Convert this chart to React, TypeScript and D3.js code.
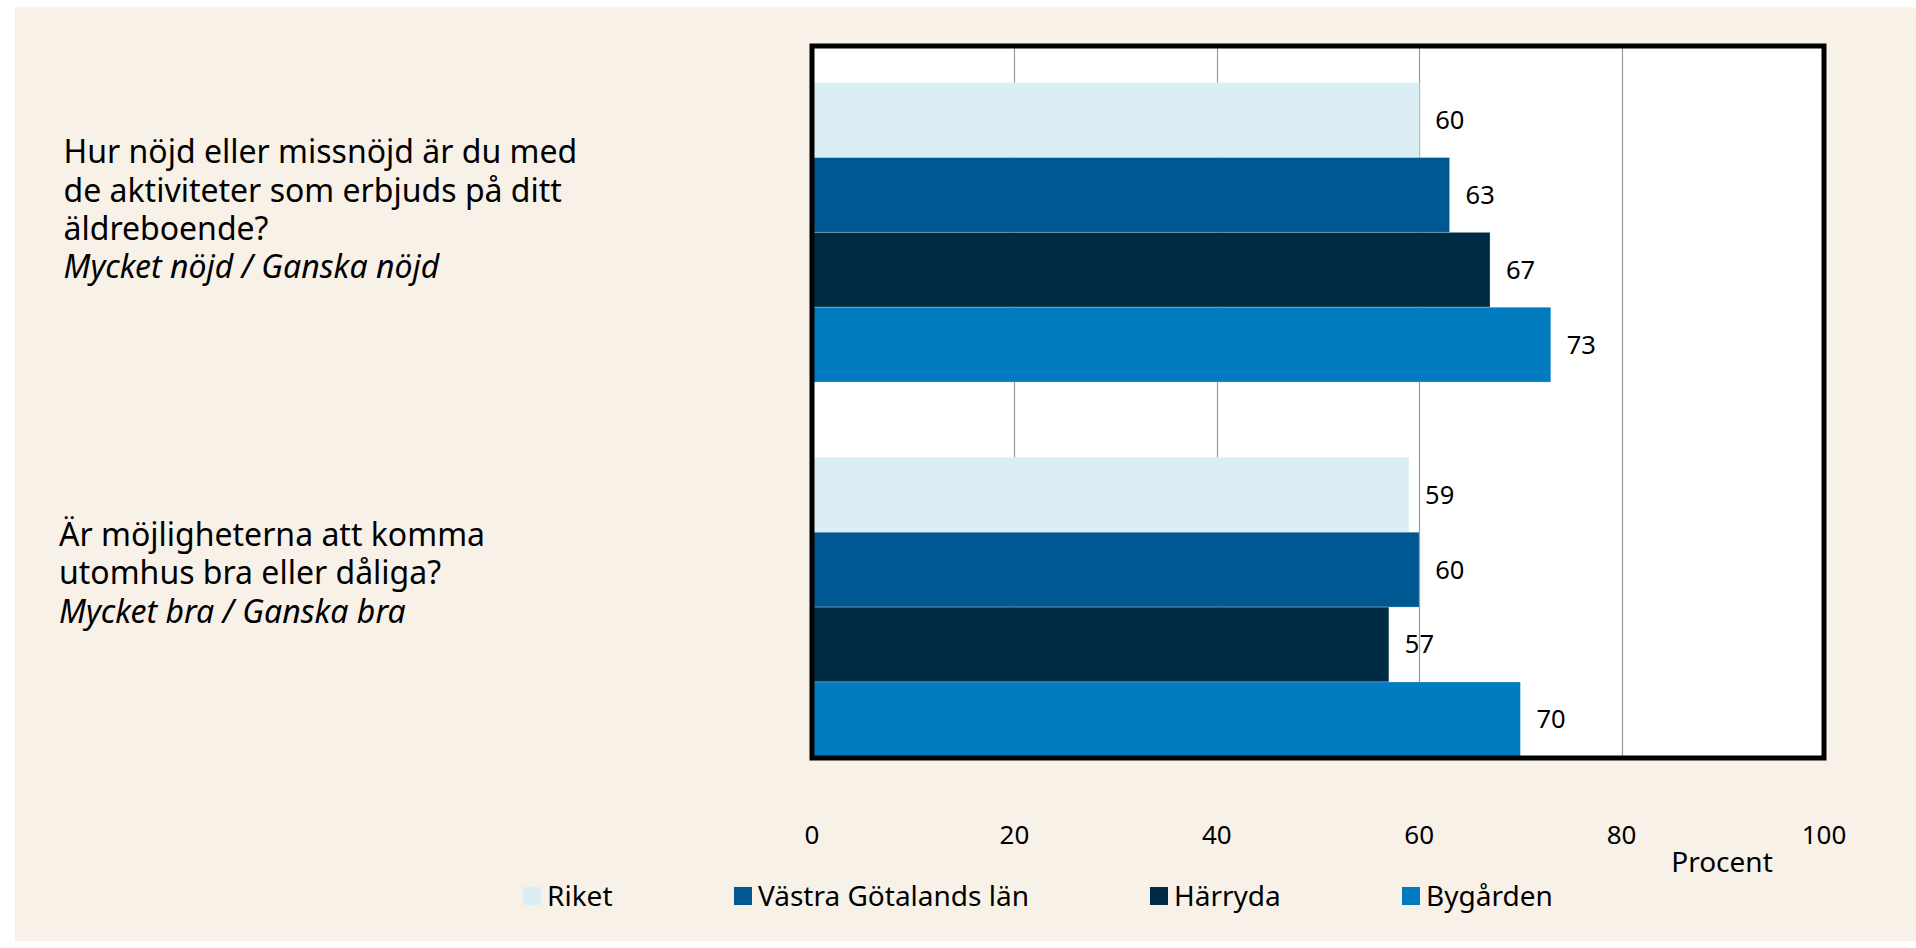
import React from "react";
import * as d3 from "d3";

const categories = ["q1", "q2"];
const categoryLines: string[][] = [
  ["Hur nöjd eller missnöjd är du med", "de aktiviteter som erbjuds på ditt", "äldreboende?"],
  ["Är möjligheterna att komma", "utomhus bra eller dåliga?"],
];
const categorySub = ["Mycket nöjd / Ganska nöjd", "Mycket bra / Ganska bra"];
const seriesNames = ["Riket", "Västra Götalands län", "Härryda", "Bygården"];
const riket = [60, 59];
const vastraGotaland = [63, 60];
const harryda = [67, 57];
const bygarden = [73, 70];
const tickValues = [0, 20, 40, 60, 80, 100];
const axisTitle = "Procent";

const seriesValues = [riket, vastraGotaland, harryda, bygarden];
const colors = ["#DBEEF5", "#005892", "#002B44", "#007BC0"];

const W = 1916;
const H = 948;
const FONT = "'Noto Sans', 'Open Sans', sans-serif";

export default function App() {
  const x = d3.scaleLinear().domain([0, 100]).range([812, 1824]);
  const y = d3
    .scaleBand<string>()
    .domain(categories)
    .range([82.7, 756.8])
    .paddingInner(0.201)
    .paddingOuter(0);
  const inner = d3
    .scaleBand<string>()
    .domain(seriesNames)
    .range([0, y.bandwidth()])
    .padding(0);

  const plotTop = 46;
  const plotBottom = 758;
  const labelFirstBaseline = [163.3, 546];
  const labelX = [63.5, 59];
  const lineH = 38.3;
  const legendX = [523, 734, 1150, 1402];

  return (
    <svg
      width={W}
      height={H}
      style={{ position: "absolute", left: 0, top: 0, display: "block" }}
      fontFamily={FONT}
    >
      <rect x={0} y={0} width={W} height={H} fill="#ffffff" />
      <rect x={15} y={7.5} width={W - 15} height={941 - 7.5} fill="#F8F1E8" />

      {/* plot background */}
      <rect x={x(0)} y={plotTop} width={x(100) - x(0)} height={plotBottom - plotTop} fill="#ffffff" />

      {/* gridlines */}
      {tickValues.slice(1, -1).map((t) => (
        <line
          key={"g" + t}
          x1={Math.round(x(t)) + 0.5}
          x2={Math.round(x(t)) + 0.5}
          y1={plotTop}
          y2={plotBottom}
          stroke="#9a9a9a"
          strokeWidth={1.2}
        />
      ))}

      {/* bars */}
      {categories.map((c, ci) => (
        <g key={c} transform={`translate(0,${y(c)})`}>
          {seriesNames.map((s, si) => {
            const v = seriesValues[si][ci];
            const by = inner(s) as number;
            const bh = inner.bandwidth();
            return (
              <g key={s}>
                <rect
                  x={x(0)}
                  y={by}
                  width={x(v) - x(0)}
                  height={bh}
                  fill={colors[si]}
                  stroke="rgba(255,255,255,0.25)"
                  strokeWidth={1}
                />
                <text
                  x={x(v) + 16}
                  y={by + bh / 2}
                  dy="0.35em"
                  fontSize={25.5}
                  fill="#000"
                >
                  {v}
                </text>
              </g>
            );
          })}
        </g>
      ))}

      {/* frame */}
      <rect
        x={x(0)}
        y={plotTop}
        width={x(100) - x(0)}
        height={plotBottom - plotTop}
        fill="none"
        stroke="#000"
        strokeWidth={5}
      />

      {/* category labels */}
      {categories.map((c, ci) => (
        <g key={"cl" + c} fontSize={32} fill="#000">
          {categoryLines[ci].map((ln, li) => (
            <text key={li} x={labelX[ci]} y={labelFirstBaseline[ci] + li * lineH}>
              {ln}
            </text>
          ))}
          <text
            x={labelX[ci]}
            y={labelFirstBaseline[ci] + categoryLines[ci].length * lineH}
            fontStyle="italic"
          >
            {categorySub[ci]}
          </text>
        </g>
      ))}

      {/* x tick labels */}
      {tickValues.map((t) => (
        <text key={"t" + t} x={x(t)} y={844} textAnchor="middle" fontSize={26} fill="#000">
          {t}
        </text>
      ))}
      <text x={1722} y={872} textAnchor="middle" fontSize={28} fill="#000">
        {axisTitle}
      </text>

      {/* legend */}
      {seriesNames.map((s, si) => (
        <g key={"lg" + s} transform={`translate(${legendX[si]},887)`}>
          <rect x={0} y={0} width={18} height={18} fill={colors[si]} />
          <text x={24} y={9} dy="0.35em" fontSize={28} fill="#000">
            {s}
          </text>
        </g>
      ))}
    </svg>
  );
}
